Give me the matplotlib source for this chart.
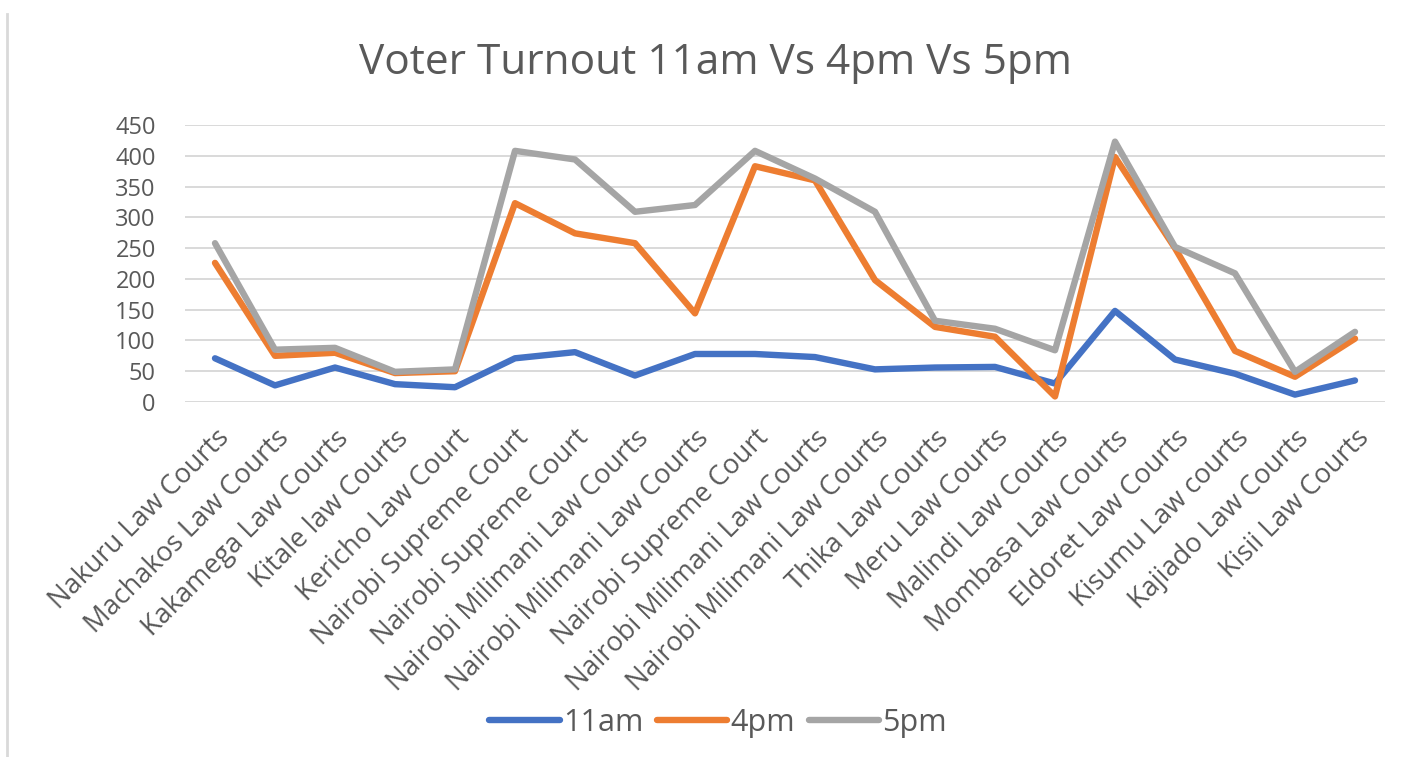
import matplotlib
matplotlib.use('Agg')
import matplotlib.pyplot as plt
from matplotlib.lines import Line2D

plt.rcParams['font.family'] = ['Open Sans', 'DejaVu Sans']

# data
courts = ['Nakuru Law Courts', 'Machakos Law Courts', 'Kakamega Law Courts',
          'Kitale law Courts', 'Kericho Law Court', 'Nairobi Supreme Court',
          'Nairobi Supreme Court', 'Nairobi Milimani Law Courts',
          'Nairobi Milimani Law Courts', 'Nairobi Supreme Court',
          'Nairobi Milimani Law Courts', 'Nairobi Milimani Law Courts',
          'Thika Law Courts', 'Meru Law Courts', 'Malindi Law Courts',
          'Mombasa Law Courts', 'Eldoret Law Courts', 'Kisumu Law courts',
          'Kajiado Law Courts', 'Kisii Law Courts']
am11 = [71, 27, 56, 29, 24, 71, 81, 43, 78, 78, 73, 53, 56, 57, 30, 148, 69, 46, 12, 35]
pm4 = [226, 75, 80, 47, 50, 323, 274, 258, 144, 383, 360, 198, 122, 106, 9, 398, 250, 83, 41, 103]
pm5 = [258, 85, 88, 49, 53, 408, 394, 309, 320, 408, 363, 309, 132, 119, 84, 423, 252, 209, 49, 114]

txt = '#595959'

fig = plt.figure(figsize=(14.13, 7.57), dpi=100)
ax = fig.add_axes([185/1413, 1 - 402/757, 1200/1413, 277/757])

x = range(len(courts))
ax.plot(x, am11, color='#4472C4', lw=4.6, solid_capstyle='round', solid_joinstyle='round', label='11am', zorder=3)
ax.plot(x, pm4, color='#ED7D31', lw=4.6, solid_capstyle='round', solid_joinstyle='round', label='4pm', zorder=3)
ax.plot(x, pm5, color='#A5A5A5', lw=4.6, solid_capstyle='round', solid_joinstyle='round', label='5pm', zorder=3)

ax.set_xlim(-0.5, len(courts) - 0.5)
ax.set_ylim(0, 450)
ax.set_yticks(range(0, 451, 50))
ax.yaxis.grid(True, color='#D9D9D9', lw=1.4)
ax.set_axisbelow(True)
for s in ax.spines.values():
    s.set_visible(False)
ax.tick_params(length=0, colors=txt)
ax.tick_params(axis='y', labelsize=17, pad=21)
ax.set_xticks(list(x))
ax.set_xticklabels(courts, rotation=45, ha='right', va='top', rotation_mode='anchor')
ax.tick_params(axis='x', labelsize=19.5, pad=16)

fig.text(715/1413, 1 - 63/757, 'Voter Turnout 11am Vs 4pm Vs 5pm', ha='center', va='center',
         fontsize=30.5, color=txt)

leg = fig.legend(loc='center', bbox_to_anchor=(718/1413, 1 - 723/757), ncol=3, frameon=False,
                 fontsize=22, handlelength=2.3, handletextpad=0.1, columnspacing=0.45,
                 labelcolor=txt)

# left border of the chart area
fig.add_artist(Line2D([7/1413, 7/1413], [0, 1 - 14/757], transform=fig.transFigure,
                      color='#D9D9D9', lw=2))

fig.savefig('out.png', dpi=100, facecolor='white')
